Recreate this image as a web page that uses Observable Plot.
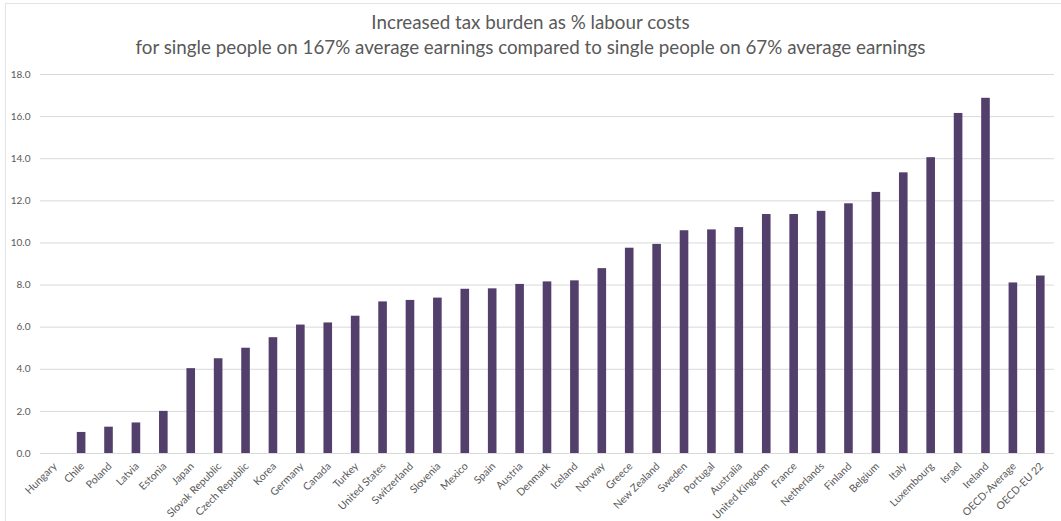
<!DOCTYPE html>
<html>
<head>
<meta charset="utf-8">
<script src="https://cdn.jsdelivr.net/npm/d3@7"></script>
<script src="https://cdn.jsdelivr.net/npm/@observablehq/plot@0.6"></script>
<style>
  html, body { margin: 0; padding: 0; background: #fff; }
  #wrap { position: relative; width: 1061px; height: 521px; overflow: hidden; font-family: Lato, "Open Sans", sans-serif; }
  #frame { position: absolute; left: 5px; top: 3px; width: 1080px; height: 540px; border: 1px solid #e4e4e4; box-sizing: border-box; }
  #title { position: absolute; left: 0; top: 9px; width: 1061px; text-align: center; color: #595959; font-size: 18.8px; line-height: 25px; }
  #chart { position: absolute; left: 0; top: 62px; }
</style>
</head>
<body>
<div id="wrap">
  <div id="frame"></div>
  <div id="title">Increased tax burden as % labour costs<br>for single people on 167% average earnings compared to single people on 67% average earnings</div>
  <div id="chart"></div>
</div>
<script>
const countries = ["Hungary","Chile","Poland","Latvia","Estonia","Japan","Slovak Republic","Czech Republic","Korea","Germany","Canada","Turkey","United States","Switzerland","Slovenia","Mexico","Spain","Austria","Denmark","Iceland","Norway","Greece","New Zealand","Sweden","Portugal","Australia","United Kingdom","France","Netherlands","Finland","Belgium","Italy","Luxembourg","Israel","Ireland","OECD-Average","OECD-EU 22"];
const values = [0, 1.0, 1.25, 1.45, 2.0, 4.03, 4.5, 5.0, 5.5, 6.1, 6.2, 6.52, 7.2, 7.27, 7.38, 7.8, 7.82, 8.03, 8.15, 8.2, 8.78, 9.75, 9.93, 10.58, 10.62, 10.73, 11.35, 11.35, 11.5, 11.86, 12.4, 13.33, 14.05, 16.15, 16.87, 8.1, 8.43];
const yTicks = [0, 2, 4, 6, 8, 10, 12, 14, 16, 18];

const data = countries.map((c, i) => ({country: c, value: values[i]}));

const chart = Plot.plot({
  width: 1061,
  height: 459,
  marginTop: 12,
  marginBottom: 68,
  marginLeft: 40,
  marginRight: 7,
  style: {fontFamily: "Lato, 'Open Sans', sans-serif", color: "#595959", background: "transparent"},
  x: {domain: countries, padding: 0, round: false, label: null, tickSize: 0, tickRotate: -45, tickPadding: 7},
  y: {domain: [0, 18], ticks: yTicks, label: null, tickSize: 0, tickPadding: 10, tickFormat: d => d.toFixed(1)},
  marks: [
    Plot.gridY(yTicks, {stroke: "#d9d9d9", strokeOpacity: 1, strokeWidth: 1}),
    Plot.ruleY([0], {stroke: "#d9d9d9", strokeWidth: 1}),
    Plot.barY(data, {x: "country", y: "value", fill: "#533f6b", insetLeft: 9.4, insetRight: 9.4}),
    Plot.axisY({ticks: yTicks, tickSize: 0, tickPadding: 10, tickFormat: d => d.toFixed(1), fontSize: 10, fill: "#595959", label: null}),
    Plot.axisX({tickSize: 0, tickRotate: -45, tickPadding: 8, dx: 1, dy: 3, fontSize: 10.5, fill: "#595959", label: null})
  ]
});
document.getElementById("chart").appendChild(chart);
</script>
</body>
</html>
